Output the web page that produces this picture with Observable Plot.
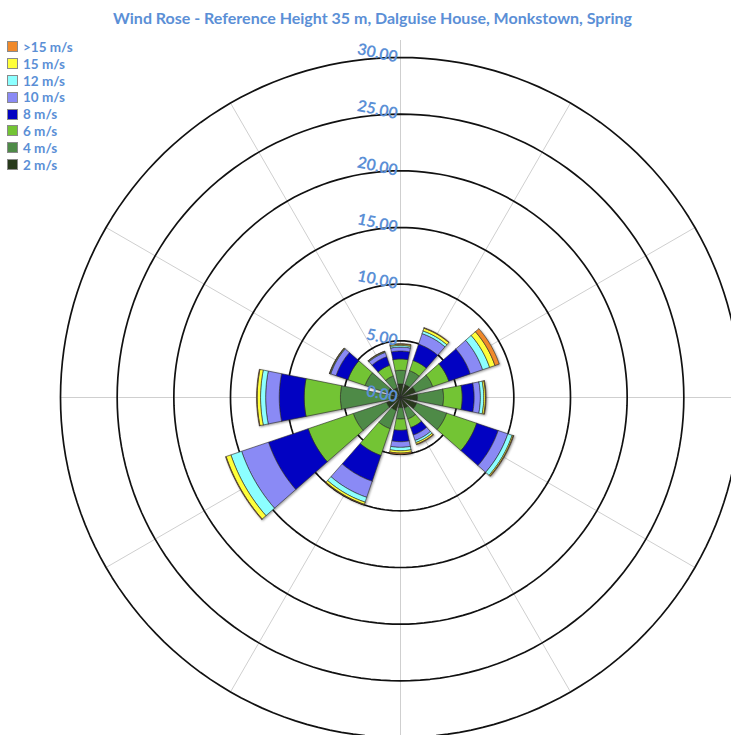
<!DOCTYPE html>
<html><head><meta charset="utf-8">
<script src="https://cdn.jsdelivr.net/npm/d3@7"></script>
<script src="https://cdn.jsdelivr.net/npm/@observablehq/plot@0.6"></script>
<style>
body{margin:0;background:#fff;font-family:Lato,"Open Sans",sans-serif;}
#wrap{position:relative;width:731px;height:735px;overflow:hidden}
#chart{position:absolute;left:0;top:0}
#title{position:absolute;left:7px;width:731px;top:8px;text-align:center;color:#5b8fd6;font-weight:bold;font-size:16px;white-space:nowrap}
#legend{position:absolute;left:7px;top:38.6px}
.item{display:flex;align-items:center;height:16.8px;font-weight:bold;font-size:13.5px;color:#5b8fd6}
.sw{width:9px;height:9px;border:1px solid #8a8a8a;margin-right:5px;box-sizing:content-box}
</style></head><body>
<div id="wrap"><div id="chart"></div><div id="title"></div><div id="legend"></div></div>
<script>
const titleText = "Wind Rose - Reference Height 35 m, Dalguise House, Monkstown, Spring";
const directions = ["N","NNE","ENE","E","ESE","SSE","S","SSW","WSW","W","WNW","NNW"];
const bearings = [0,30,60,90,120,150,180,210,240,270,300,330];
const speedLabels = ["2 m/s","4 m/s","6 m/s","8 m/s","10 m/s","12 m/s","15 m/s",">15 m/s"];
const speedColors = ["#27391b","#4e8a47","#73c434","#0202c2","#8a8af5","#8cffff","#ffff3a","#f0892a"];
// frequency (%) per direction, one array per speed bin
const s2    = [1.2, 1.2, 1.4, 1.5, 1.5, 1.0, 0.9, 1.2, 1.3, 1.0, 1.2, 0.9];
const s4    = [1.2, 1.3, 1.6, 2.3, 2.8, 1.0, 1.0, 1.7, 3.1, 4.3, 2.1, 1.1];
const s6    = [1.0, 0.95,1.5, 1.65,2.8, 0.8, 1.0, 2.5, 4.2, 3.2, 1.6, 1.0];
const s8    = [0.7, 1.52,2.0, 1.05,2.0, 0.7, 1.0, 2.4, 3.7, 2.2, 1.1, 0.8];
const s10   = [0.35,0.98,1.15,0.55,0.9, 0.5, 0.5, 1.5, 2.5, 1.2, 0.5, 0.4];
const s12   = [0.15,0.25,0.65,0.3, 0.4, 0.2, 0.3, 0.45,1.0, 0.45,0.05,0.05];
const s15   = [0.1, 0.25,0.5, 0.15,0.1, 0.15,0.2, 0.2, 0.45,0.3, 0.05,0.05];
const s15p  = [0.05,0.05,0.4, 0.05,0.05,0.05,0.1, 0.05,0.05,0.05,0.02,0.02];
const series = [s2,s4,s6,s8,s10,s12,s15,s15p];
const ringValues = [5,10,15,20,25,30];
const tickValues = [0,5,10,15,20,25,30];
const axisMax = 31.5;

const W = 731, H = 735, cx = 400, cy = 397, k = 340/30;
const rad = d => d*Math.PI/180;
const halfWidth = 11.3;

// wedge polygons
const wedgeRows = [];
bearings.forEach((b,i) => {
  let cum = 0;
  series.forEach((arr,j) => {
    const r0 = cum, r1 = cum + arr[i]; cum = r1;
    const n = 16, pts = [];
    for (let q=0;q<=n;q++){const a=rad(b-halfWidth+2*halfWidth*q/n); pts.push([r1*Math.sin(a), r1*Math.cos(a)]);}
    if (r0>0) for (let q=n;q>=0;q--){const a=rad(b-halfWidth+2*halfWidth*q/n); pts.push([r0*Math.sin(a), r0*Math.cos(a)]);}
    else pts.push([0,0]);
    pts.push(pts[0]);
    pts.forEach(p => wedgeRows.push({id:`${i}-${j}`, speed: speedLabels[j], color: speedColors[j], x:p[0], y:p[1]}));
  });
});
// rings
const ringRows = [];
ringValues.forEach(v => { for (let a=0;a<=360;a+=2) ringRows.push({ring:v, x:v*Math.sin(rad(a)), y:v*Math.cos(rad(a))}); });
const spokeLen = d3.max(ringValues);

const chart = Plot.plot({
  width: W, height: H, margin: 0,
  x: {domain: [-cx/k, (W-cx)/k], axis: null},
  y: {domain: [-(H-cy)/k, cy/k], axis: null},
  color: {type: "identity"},
  style: {background: "white"},
  marks: [
    Plot.link(bearings, {x1: () => 0, y1: () => 0, x2: b => spokeLen*Math.sin(rad(b)), y2: b => spokeLen*Math.cos(rad(b)), stroke: "#cfcfcf", strokeWidth: 1}),
    Plot.ruleX([0], {y1: -axisMax, y2: axisMax, stroke: "#cfcfcf", strokeWidth: 1}),
    Plot.line(ringRows, {x: "x", y: "y", z: "ring", stroke: "#111", strokeWidth: 1.7, curve: "linear"}),
    Plot.line(wedgeRows, {x: "x", y: "y", z: "id", fill: "color", stroke: "#2a2a2a", strokeWidth: 0.6, curve: "linear"}),
    Plot.text(tickValues, {x: () => 0, y: d => d, text: d => d.toFixed(2), textAnchor: "end", dx: -3, rotate: 12, fill: "#5b8fd6", fontSize: 16, fontWeight: "bold", fontFamily: "Lato, 'Open Sans', sans-serif"})
  ]
});
document.getElementById("chart").appendChild(chart);
const groups = chart.querySelectorAll('g[aria-label="line"]');
if (groups.length >= 2) groups[groups.length-1].setAttribute("style", "filter: drop-shadow(1px 1.5px 1px rgba(0,0,0,0.4))");
document.getElementById("title").textContent = titleText;
const leg = document.getElementById("legend");
speedLabels.map((s,i)=>[s,speedColors[i]]).reverse().forEach(([s,c]) => {
  const it = document.createElement("div"); it.className = "item";
  const sw = document.createElement("span"); sw.className = "sw"; sw.style.background = c;
  const tx = document.createElement("span"); tx.textContent = s;
  it.appendChild(sw); it.appendChild(tx); leg.appendChild(it);
});
</script>
</body></html>
